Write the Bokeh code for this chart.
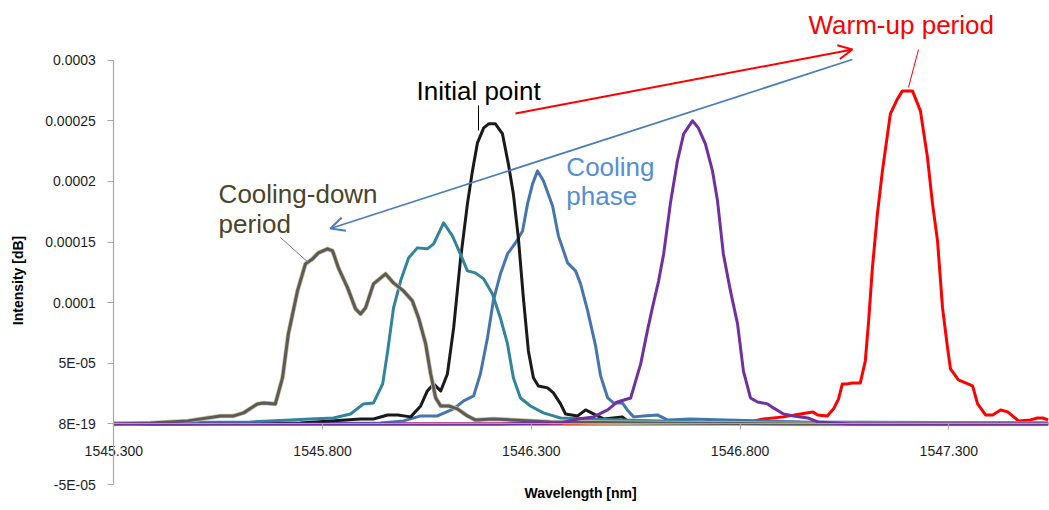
import math
from bokeh.plotting import figure
from bokeh.models import (Range1d, FixedTicker, PrintfTickFormatter, CustomJSTickFormatter,
                          Label, Arrow, OpenHead)
from bokeh.embed import file_html
from bokeh.resources import INLINE

# ---------------- data ----------------
x_ticks = [1545.3, 1545.8, 1546.3, 1546.8, 1547.3]
y_ticks = [-5e-05, 0.0, 5e-05, 0.0001, 0.00015, 0.0002, 0.00025, 0.0003]
y_tick_labels = ["-5E-05", "8E-19", "5E-05", "0.0001", "0.00015", "0.0002", "0.00025", "0.0003"]

# Cooling-down period (grey)
cool_down_wl = [1545.300, 1545.388, 1545.477, 1545.556, 1545.587, 1545.611, 1545.644, 1545.659, 1545.687,
                1545.704, 1545.718, 1545.740, 1545.759, 1545.776, 1545.790, 1545.812, 1545.824, 1545.838,
                1545.860, 1545.879, 1545.891, 1545.903, 1545.922, 1545.951, 1545.970, 1545.994, 1546.015,
                1546.030, 1546.047, 1546.059, 1546.071, 1546.083, 1546.102, 1546.123, 1546.147, 1546.166,
                1546.209, 1546.346, 1546.586, 1546.945, 1547.538]
cool_down_int = [0, 0.8e-6, 2.5e-6, 6.6e-6, 6.6e-6, 9.1e-6, 16.5e-6, 17.3e-6, 16.5e-6,
                 37.9e-6, 74.2e-6, 109.7e-6, 132.0e-6, 136.1e-6, 141.1e-6, 144.4e-6, 142.7e-6, 128.7e-6,
                 112.2e-6, 94.9e-6, 90.7e-6, 95.7e-6, 115.5e-6, 123.7e-6, 116.3e-6, 109.7e-6, 101.5e-6,
                 87.4e-6, 66.0e-6, 41.2e-6, 21.4e-6, 14.8e-6, 14.8e-6, 12.4e-6, 6.6e-6, 3.3e-6,
                 4.1e-6, 1.6e-6, 0.8e-6, 0, 0]

# intermediate cooling (teal)
teal_wl = [1545.300, 1545.627, 1545.771, 1545.826, 1545.867, 1545.898, 1545.922, 1545.944, 1545.956,
           1545.970, 1545.987, 1546.006, 1546.027, 1546.051, 1546.066, 1546.090, 1546.111, 1546.130,
           1546.147, 1546.166, 1546.186, 1546.207, 1546.226, 1546.243, 1546.257, 1546.274, 1546.298,
           1546.329, 1546.353, 1546.370, 1546.514, 1546.705, 1547.538]
teal_int = [0.8e-6, 1.6e-6, 4.1e-6, 4.9e-6, 8.2e-6, 16.5e-6, 17.3e-6, 33.0e-6, 60.2e-6,
            95.7e-6, 118.0e-6, 136.9e-6, 145.2e-6, 144.4e-6, 148.5e-6, 165.8e-6, 155.1e-6, 140.2e-6,
            126.2e-6, 124.6e-6, 119.6e-6, 107.2e-6, 87.4e-6, 66.0e-6, 38.0e-6, 21.4e-6, 14.8e-6,
            9.1e-6, 6.6e-6, 4.9e-6, 3.3e-6, 1.6e-6, 0.8e-6]

# Initial point (black)
initial_wl = [1545.300, 1545.747, 1545.891, 1545.922, 1545.956, 1545.980, 1546.011, 1546.035, 1546.051,
              1546.066, 1546.083, 1546.099, 1546.114, 1546.130, 1546.147, 1546.159, 1546.171, 1546.186,
              1546.198, 1546.214, 1546.231, 1546.245, 1546.257, 1546.269, 1546.281, 1546.293, 1546.305,
              1546.317, 1546.339, 1546.353, 1546.370, 1546.382, 1546.411, 1546.430, 1546.449, 1546.473,
              1546.518, 1546.530, 1546.705, 1547.538]
initial_int = [0, 0.8e-6, 4.1e-6, 4.1e-6, 7.4e-6, 7.4e-6, 5.8e-6, 14.8e-6, 27.2e-6,
               33.0e-6, 27.2e-6, 41.2e-6, 79.2e-6, 134.5e-6, 181.5e-6, 208.7e-6, 231.8e-6, 244.2e-6,
               247.5e-6, 247.5e-6, 239.2e-6, 214.5e-6, 189.8e-6, 153.4e-6, 103.9e-6, 60.2e-6, 38.0e-6,
               31.3e-6, 29.7e-6, 25.6e-6, 16.5e-6, 8.2e-6, 6.6e-6, 11.5e-6, 8.2e-6, 4.1e-6,
               5.8e-6, 2.5e-6, 0.8e-6, 0]

# Cooling phase (blue)
cooling_wl = [1545.300, 1545.939, 1545.994, 1546.035, 1546.075, 1546.114, 1546.138, 1546.162, 1546.178,
              1546.195, 1546.209, 1546.226, 1546.243, 1546.262, 1546.279, 1546.291, 1546.303, 1546.315,
              1546.329, 1546.351, 1546.365, 1546.387, 1546.406, 1546.418, 1546.435, 1546.454, 1546.466,
              1546.483, 1546.497, 1546.518, 1546.530, 1546.545, 1546.569, 1546.602, 1546.626, 1546.681,
              1546.945, 1547.538]
cooling_int = [0, 0.8e-6, 2.5e-6, 6.6e-6, 6.6e-6, 12.4e-6, 19.0e-6, 23.1e-6, 41.2e-6,
               70.9e-6, 101.5e-6, 123.7e-6, 140.2e-6, 149.3e-6, 159.2e-6, 181.5e-6, 198.0e-6, 208.7e-6,
               200.5e-6, 179.8e-6, 155.1e-6, 132.8e-6, 126.2e-6, 115.5e-6, 93.2e-6, 64.3e-6, 39.6e-6,
               21.4e-6, 17.3e-6, 17.3e-6, 11.5e-6, 5.8e-6, 6.6e-6, 7.4e-6, 3.3e-6, 4.1e-6,
               1.6e-6, 0.8e-6]

# warm-up intermediate (purple)
purple_wl = [1545.300, 1546.226, 1546.370, 1546.411, 1546.449, 1546.483, 1546.506, 1546.538, 1546.550,
             1546.562, 1546.578, 1546.590, 1546.605, 1546.617, 1546.633, 1546.650, 1546.665, 1546.686,
             1546.700, 1546.717, 1546.734, 1546.746, 1546.760, 1546.777, 1546.794, 1546.808, 1546.825,
             1546.842, 1546.866, 1546.880, 1546.904, 1546.928, 1546.962, 1546.986, 1547.065, 1547.538]
purple_int = [0, 0, 0.8e-6, 4.1e-6, 5.8e-6, 11.5e-6, 18.1e-6, 21.4e-6, 35.5e-6,
              49.5e-6, 76.7e-6, 95.7e-6, 118.0e-6, 140.2e-6, 181.5e-6, 217.0e-6, 239.2e-6, 250.0e-6,
              244.2e-6, 231.0e-6, 208.7e-6, 184.0e-6, 140.2e-6, 109.7e-6, 82.5e-6, 43.7e-6, 21.4e-6,
              18.1e-6, 16.5e-6, 13.2e-6, 8.2e-6, 6.6e-6, 4.9e-6, 1.6e-6, 0, 0]

# Warm-up period (red)
warm_wl = [1545.300, 1546.801, 1546.856, 1546.904, 1546.945, 1546.974, 1546.986, 1547.009, 1547.024,
           1547.036, 1547.045, 1547.057, 1547.069, 1547.088, 1547.100, 1547.108, 1547.117, 1547.129,
           1547.141, 1547.160, 1547.177, 1547.189, 1547.213, 1547.232, 1547.249, 1547.261, 1547.273,
           1547.285, 1547.297, 1547.304, 1547.323, 1547.340, 1547.357, 1547.369, 1547.388, 1547.405,
           1547.424, 1547.441, 1547.467, 1547.496, 1547.512, 1547.525, 1547.538]
warm_int = [0, 0, 4.1e-6, 5.8e-6, 8.2e-6, 9.9e-6, 7.4e-6, 6.6e-6, 12.4e-6,
            20.6e-6, 33.0e-6, 33.0e-6, 33.8e-6, 33.8e-6, 51.9e-6, 84.9e-6, 128.7e-6, 173.2e-6,
            208.7e-6, 255.7e-6, 268.1e-6, 274.7e-6, 274.7e-6, 258.2e-6, 219.5e-6, 181.5e-6, 151.0e-6,
            95.7e-6, 62.7e-6, 45.4e-6, 36.3e-6, 33.8e-6, 31.3e-6, 16.5e-6, 7.4e-6, 7.4e-6,
            11.5e-6, 9.9e-6, 2.5e-6, 3.3e-6, 4.9e-6, 4.9e-6, 3.3e-6]

# ---------------- figure ----------------
FONT = "Liberation Sans"
X0, X1 = 1545.0286, 1547.5412
Y0, Y1 = -7.143e-05, 3.4925e-04

p = figure(width=1049, height=510,
           x_range=Range1d(X0, X1), y_range=Range1d(Y0, Y1),
           output_backend="svg", toolbar_location=None,
           min_border_left=0, min_border_right=0, min_border_top=0, min_border_bottom=0)
p.outline_line_color = None
p.grid.visible = False
p.background_fill_color = "white"
p.border_fill_color = "white"

# x axis crossing at 0
xa = p.xaxis[0]
xa.fixed_location = 0
xa.bounds = (1545.3, X1)
xa.ticker = FixedTicker(ticks=x_ticks)
xa.formatter = PrintfTickFormatter(format="%.3f")
xa.minor_tick_line_color = None
xa.major_tick_out = 6
xa.major_tick_in = 0
xa.axis_line_color = "#A6A6A6"
xa.axis_line_width = 1.2
xa.major_tick_line_color = "#A6A6A6"
xa.major_label_standoff = 16
xa.major_label_text_font = FONT
xa.major_label_text_font_size = "14px"
xa.major_label_text_color = "#1E1E1E"

# y axis at x = 1545.3
ya = p.yaxis[0]
ya.fixed_location = 1545.3
ya.bounds = (-5e-05, 0.0003)
ya.ticker = FixedTicker(ticks=y_ticks)
ya.formatter = CustomJSTickFormatter(args=dict(tvals=y_ticks, tlabels=y_tick_labels), code="""
let best = 0;
for (let i = 0; i < tvals.length; i++) {
  if (Math.abs(tvals[i] - tick) < Math.abs(tvals[best] - tick)) best = i;
}
return tlabels[best];
""")
ya.minor_tick_line_color = None
ya.major_tick_out = 6
ya.major_tick_in = 0
ya.axis_line_color = "#A6A6A6"
ya.axis_line_width = 1.2
ya.major_tick_line_color = "#A6A6A6"
ya.major_label_standoff = 12
ya.major_label_text_font = FONT
ya.major_label_text_font_size = "14px"
ya.major_label_text_color = "#1E1E1E"

# ---------------- curves ----------------
p.line(warm_wl, warm_int, line_color="#FF0000", line_width=3, line_join="round")
p.line(cooling_wl, cooling_int, line_color="#4675AE", line_width=3, line_join="round")
p.line(initial_wl, initial_int, line_color="#1A1A1A", line_width=3, line_join="round")
p.line(teal_wl, teal_int, line_color="#31849B", line_width=3, line_join="round")
p.line(cool_down_wl, cool_down_int, line_color="#C9C09A", line_width=4.5, line_join="round")
p.line(cool_down_wl, cool_down_int, line_color="#5A5A5A", line_width=3, line_join="round")
p.line(purple_wl, purple_int, line_color="#7030A0", line_width=3, line_join="round")

# ---------------- annotations ----------------
p.add_layout(Arrow(end=OpenHead(size=14, line_color="#FF0000", line_width=2),
                   x_start=1546.262, y_start=2.5604e-4, x_end=1547.069, y_end=3.0884e-4,
                   line_color="#FF0000", line_width=2))
p.add_layout(Arrow(end=OpenHead(size=14, line_color="#4A7EBB", line_width=2),
                   x_start=1547.069, y_start=3.0059e-4, x_end=1545.819, y_end=1.6118e-4,
                   line_color="#4A7EBB", line_width=1.7))
# leader lines
p.add_layout(Arrow(end=None, x_start=1547.2274, y_start=3.0884e-4, x_end=1547.2035, y_end=2.775e-4,
                   line_color="#FF0000", line_width=1))
p.add_layout(Arrow(end=None, x_start=1546.1735, y_start=2.627e-4, x_end=1546.1735, y_end=2.420e-4,
                   line_color="#000000", line_width=1))
p.add_layout(Arrow(end=None, x_start=1545.699, y_start=1.538e-4, x_end=1545.766, y_end=1.331e-4,
                   line_color="#7F7F7F", line_width=1))

def lab(x, y, text, color, size="26px", style="normal", align="left", baseline="alphabetic", angle=0.0):
    p.add_layout(Label(x=x, y=y, text=text, text_color=color, text_font=FONT,
                       text_font_size=size, text_font_style=style, angle=angle,
                       text_align=align, text_baseline=baseline))

lab(1546.964, 3.2944e-4, "Warm-up period", "#FF0000")
lab(1546.025, 2.750e-4, "Initial point", "#000000")
lab(1546.384, 2.123e-4, "Cooling", "#558ED5")
lab(1546.384, 1.876e-4, "phase", "#558ED5")
lab(1545.551, 1.900e-4, "Cooling-down", "#4A4428")
lab(1545.551, 1.645e-4, "period", "#4A4428")
# axis titles
lab(1546.418, -5.74e-5, "Wavelength [nm]", "#000000", size="14px", style="bold", align="center")
lab(1545.0717, 1.1829e-4, "Intensity [dB]", "#000000", size="14px", style="bold", align="center",
    baseline="middle", angle=math.pi / 2)

open("out.html", "w").write(file_html(p, INLINE))
